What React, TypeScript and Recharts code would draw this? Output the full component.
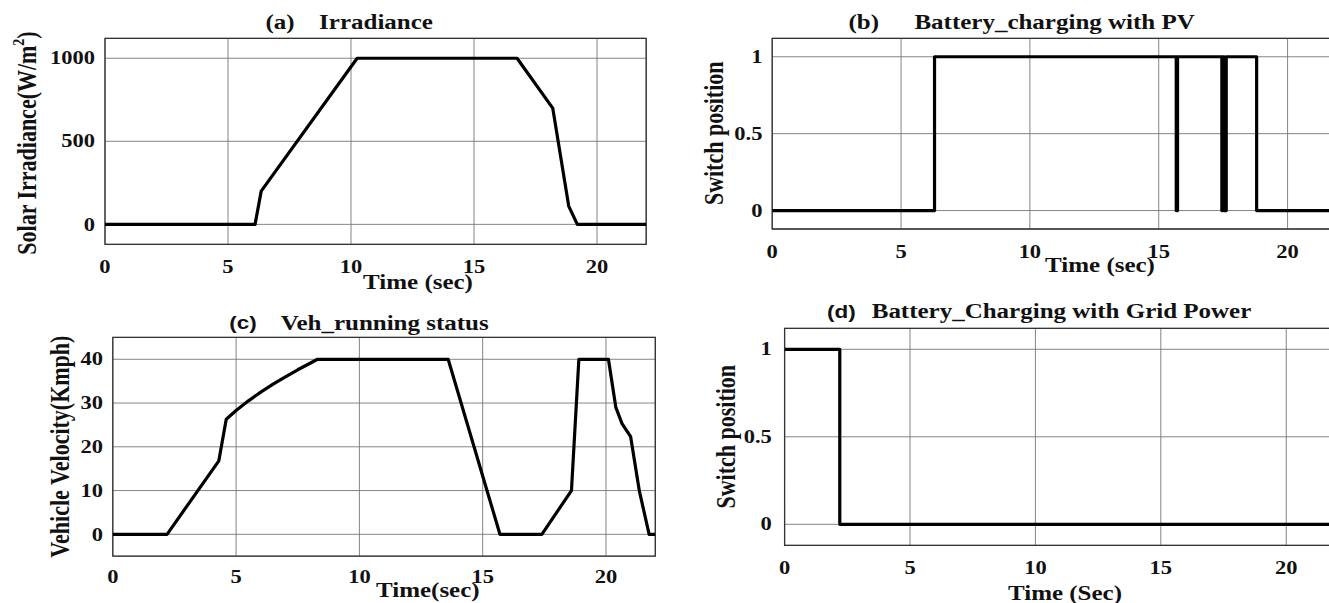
import React from 'react';
import { LineChart, Line, XAxis, YAxis, CartesianGrid, ReferenceArea } from 'recharts';

// ---------- data ----------
const timeTicks = [0, 5, 10, 15, 20];

const irrTime = [0, 6.1, 6.35, 10.25, 16.75, 18.2, 18.85, 19.2, 22];
const irrValue = [0, 0, 200, 1000, 1000, 700, 110, 0, 0];
const irrTicks = [0, 500, 1000];

const pvTime = [0, 6.3, 6.3, 15.68, 15.68, 15.73, 15.73, 17.45, 17.45, 17.5, 17.5, 17.55, 17.55, 17.62, 17.62, 18.8, 18.8, 22];
const pvState = [0, 0, 1, 1, 0, 0, 1, 1, 0, 0, 1, 1, 0, 0, 1, 1, 0, 0];

const velTime = [0, 2.2, 4.3, 4.6, 5.0, 5.5, 6.0, 6.5, 7.0, 7.5, 8.0, 8.3, 13.6, 15.7, 17.4, 18.6, 18.9, 20.1, 20.4, 20.65, 21.0, 21.35, 21.75, 22];
const velValue = [0, 0, 16.8, 26.3, 28.3, 30.5, 32.5, 34.3, 36.0, 37.6, 39.1, 40, 40, 0, 0, 10, 40, 40, 29, 25.3, 22.3, 10, 0, 0];
const velTicks = [0, 10, 20, 30, 40];

const gridTime = [0, 2.2, 2.2, 22];
const gridState = [1, 1, 0, 0];
const switchTicks = [0, 0.5, 1];

const irrData = irrTime.map((t, i) => ({ t, v: irrValue[i] }));
const pvData = pvTime.map((t, i) => ({ t, v: pvState[i] }));
const velData = velTime.map((t, i) => ({ t, v: velValue[i] }));
const gridData = gridTime.map((t, i) => ({ t, v: gridState[i] }));

// ---------- styles ----------
const SERIF = '"Liberation Serif", "Times New Roman", serif';
const SANS = '"Liberation Sans", Arial, sans-serif';
const SX = 1.25;
const INK = '#111';

function XTick(props: any) {
  const { x, y, payload } = props;
  return (
    <text x={x} y={y} textAnchor="middle" dominantBaseline="central" fontFamily={SERIF} fontWeight="bold"
      fontSize={18} fill={INK} transform={`translate(${x} ${y}) scale(${SX} 1) translate(${-x} ${-y})`}>
      {payload.value}
    </text>
  );
}

function YTick(props: any) {
  const { x, y, payload } = props;
  return (
    <text x={x} y={y} textAnchor="end" dominantBaseline="central" fontFamily={SERIF} fontWeight="bold"
      fontSize={18} fill={INK} transform={`translate(${x} ${y}) scale(${SX} 1) translate(${-x} ${-y})`}>
      {payload.value}
    </text>
  );
}

type PanelProps = {
  left: number; top: number; width: number; height: number;
  yAxisW: number; mTop: number; mRight: number; xAxisH: number;
  data: { t: number; v: number }[];
  yDomain: [number, number]; yTicks: number[];
  xTickMargin: number; yTickMargin: number;
};

function Panel(p: PanelProps) {
  return (
    <div style={{ position: 'absolute', left: p.left, top: p.top }}>
      <LineChart width={p.width} height={p.height} data={p.data}
        margin={{ top: p.mTop, right: p.mRight, left: 0, bottom: 0 }}>
        <CartesianGrid stroke="#777" strokeWidth={0.9} />
        <XAxis dataKey="t" type="number" domain={[0, 22]} ticks={timeTicks} interval={0}
          allowDataOverflow height={p.xAxisH} axisLine={false} tickLine={false} tickSize={0}
          tickMargin={p.xTickMargin} tick={<XTick />} />
        <YAxis type="number" domain={p.yDomain} ticks={p.yTicks} interval={0} allowDataOverflow
          width={p.yAxisW} axisLine={false} tickLine={false} tickSize={0}
          tickMargin={p.yTickMargin} tick={<YTick />} />
        <ReferenceArea x1={0} x2={22} y1={p.yDomain[0]} y2={p.yDomain[1]} fill="none"
          stroke="#333" strokeWidth={1.3} ifOverflow="visible" />
        <Line dataKey="v" type="linear" stroke="#000" strokeWidth={3.2} dot={false}
          isAnimationActive={false} strokeLinejoin="round" />
      </LineChart>
    </div>
  );
}

function Label(props: { x: number; y: number; size: number; text: React.ReactNode; rotate?: boolean; sans?: boolean }) {
  const { x, y, size, text, rotate, sans } = props;
  const tf = rotate
    ? `translate(${x} ${y}) scale(${SX} 1) rotate(-90)`
    : `translate(${x} ${y}) scale(${SX} 1)`;
  return (
    <text x={0} y={0} transform={tf} textAnchor="middle" dominantBaseline="central"
      fontFamily={sans ? SANS : SERIF} fontWeight="bold" fontSize={size} fill={INK}>
      {text}
    </text>
  );
}

export default function App() {
  return (
    <div style={{ position: 'absolute', left: 0, top: 0, width: 1329, height: 603, overflow: 'hidden', background: '#fff' }}>
      <Panel left={0} top={0} width={660} height={290} yAxisW={105} mTop={38.3} mRight={13.8} xAxisH={45.7}
        data={irrData} yDomain={[-120, 1120]} yTicks={irrTicks} xTickMargin={22.7} yTickMargin={10} />
      <Panel left={660} top={0} width={700} height={290} yAxisW={112.2} mTop={38.3} mRight={20.9} xAxisH={61}
        data={pvData} yDomain={[-0.12, 1.12]} yTicks={switchTicks} xTickMargin={22.7} yTickMargin={9.8} />
      <Panel left={0} top={290} width={670} height={313} yAxisW={112.8} mTop={47.4} mRight={14.7} xAxisH={46.8}
        data={velData} yDomain={[-5, 45]} yTicks={velTicks} xTickMargin={20.5} yTickMargin={9.8} />
      <Panel left={660} top={290} width={700} height={313} yAxisW={124.6} mTop={38.3} mRight={23.6} xAxisH={57.7}
        data={gridData} yDomain={[-0.12, 1.12]} yTicks={switchTicks} xTickMargin={23} yTickMargin={12.8} />

      <svg width={1329} height={603} style={{ position: 'absolute', left: 0, top: 0, pointerEvents: 'none' }}>
        {/* (a) */}
        <Label x={280} y={22.7} size={20} text="(a)" />
        <Label x={376} y={22.7} size={20} text="Irradiance" />
        <Label x={27} y={143} size={22} rotate text={<>Solar Irradiance(W/m<tspan baselineShift="super" fontSize={14}>2</tspan>)</>} />
        <Label x={418} y={282} size={20} text="Time (sec)" />
        {/* (b) */}
        <Label x={863.7} y={22.7} size={20} text="(b)" />
        <Label x={1054.6} y={22.7} size={20} text="Battery_charging with PV" />
        <Label x={713.4} y={133.3} size={22} rotate text="Switch position" />
        <Label x={1100} y={265} size={20} text="Time (sec)" />
        {/* (c) */}
        <Label x={243} y={323.3} size={18} sans text="(c)" />
        <Label x={384.7} y={323.3} size={20} text="Veh_running status" />
        <Label x={59.5} y={446.7} size={22} rotate text="Vehicle Velocity(Kmph)" />
        <Label x={427.8} y={590} size={20} text="Time(sec)" />
        {/* (d) */}
        <Label x={841.3} y={311.7} size={18} sans text="(d)" />
        <Label x={1061.5} y={311.7} size={20} text="Battery_Charging with Grid Power" />
        <Label x={726} y={436.7} size={22} rotate text="Switch position" />
        <Label x={1065} y={593.3} size={20} text="Time (Sec)" />
      </svg>
    </div>
  );
}
